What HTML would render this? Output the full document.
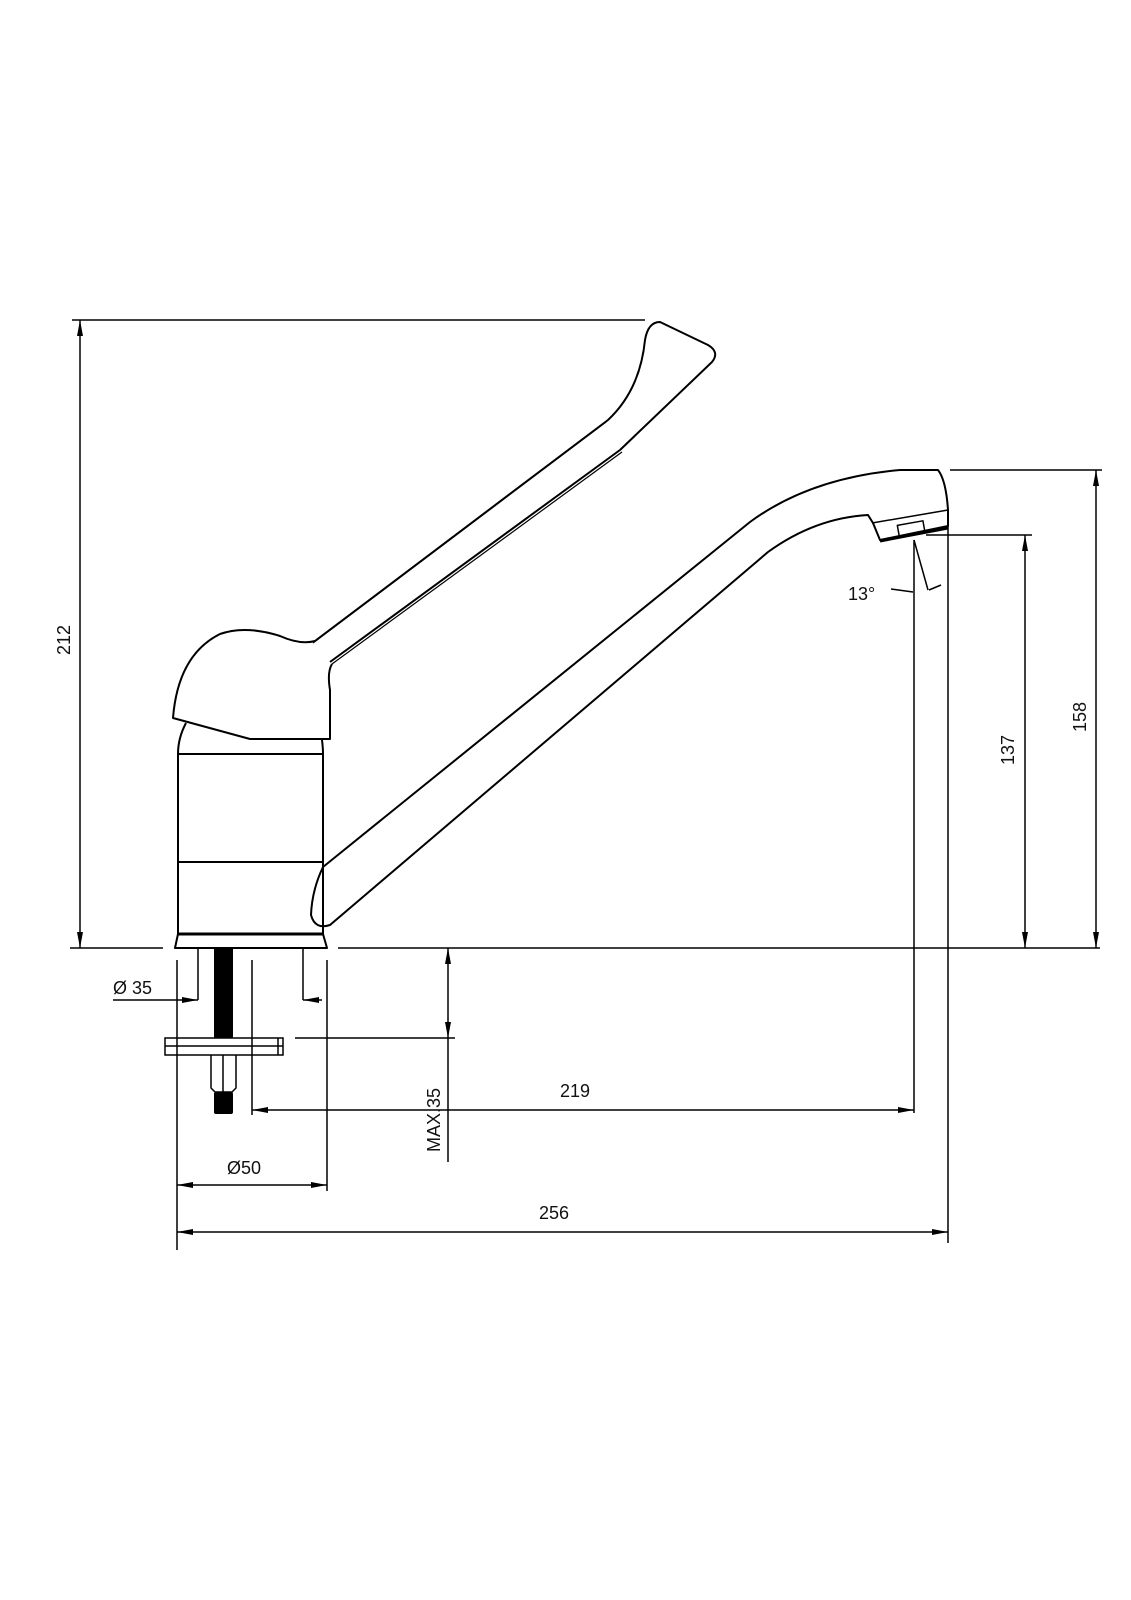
<!DOCTYPE html>
<html><head><meta charset="utf-8"><style>
html,body{margin:0;padding:0;background:#fff}
svg{display:block}
text{font-family:"Liberation Sans",sans-serif;font-size:18px;fill:#111}
</style></head><body>
<svg width="1131" height="1600" viewBox="0 0 1131 1600" xmlns="http://www.w3.org/2000/svg">
<defs>
<marker id="a" viewBox="0 0 16 6" refX="16" refY="3" markerWidth="16" markerHeight="6" markerUnits="userSpaceOnUse" orient="auto-start-reverse"><path d="M0,0 L16,3 L0,6 z" fill="#000"/></marker>
</defs>
<g fill="none" stroke="#000" stroke-width="1.5">
<line x1="70" y1="948" x2="163" y2="948"/>
<line x1="338" y1="948" x2="1100" y2="948"/>
<line x1="72" y1="320" x2="645" y2="320"/>
<line x1="80" y1="320" x2="80" y2="948" marker-start="url(#a)" marker-end="url(#a)"/>
<line x1="950" y1="470" x2="1102" y2="470"/>
<line x1="1096" y1="470" x2="1096" y2="948" marker-start="url(#a)" marker-end="url(#a)"/>
<line x1="926" y1="535" x2="1032" y2="535"/>
<line x1="1025" y1="535" x2="1025" y2="948" marker-start="url(#a)" marker-end="url(#a)"/>
<line x1="914" y1="540" x2="914" y2="1113"/>
<line x1="948" y1="512" x2="948" y2="1243"/>
<line x1="914" y1="540" x2="928" y2="590"/>
<path d="M891 589 L913 592"/>
<path d="M929 590 L941 585"/>
<line x1="252" y1="960" x2="252" y2="1115"/>
<line x1="252" y1="1110" x2="914" y2="1110" marker-start="url(#a)" marker-end="url(#a)"/>
<line x1="177" y1="960" x2="177" y2="1250"/>
<line x1="327" y1="960" x2="327" y2="1191"/>
<line x1="177" y1="1232" x2="948" y2="1232" marker-start="url(#a)" marker-end="url(#a)"/>
<line x1="177" y1="1185" x2="327" y2="1185" marker-start="url(#a)" marker-end="url(#a)"/>
<line x1="198" y1="948" x2="198" y2="1000"/>
<line x1="303" y1="948" x2="303" y2="1000"/>
<line x1="113" y1="1000" x2="198" y2="1000" marker-end="url(#a)"/>
<line x1="322" y1="1000" x2="303" y2="1000" marker-end="url(#a)"/>
<line x1="295" y1="1038" x2="455" y2="1038"/>
<line x1="448" y1="948" x2="448" y2="1038" marker-start="url(#a)" marker-end="url(#a)"/>
<line x1="448" y1="1038" x2="448" y2="1162"/>
</g>
<g fill="none" stroke="#000" stroke-width="2" stroke-linejoin="round">
<path d="M315 641 L608 420 Q640 390 645 340 Q648 322 660 322 L708 345 Q720 352 712 362 L620 450 L330 662"/>
<path d="M313 643 L606 422" stroke-width="1.2"/>
<path d="M332 664 L622 452" stroke-width="1.2"/>
<path d="M315 641 Q300 645 280 636 Q245 625 220 634 Q178 655 173 718 L250 739 L330 739 L330 690 Q327 672 332 664"/>
<path d="M186 723 Q178 738 178 754"/>
<path d="M322 740 Q323 748 323 754"/>
<rect x="178" y="754" width="145" height="180"/>
<line x1="178" y1="862" x2="323" y2="862"/>
<path d="M178 934 L175 948 L327 948 L323 934" />
<line x1="178" y1="934" x2="323" y2="934" stroke-width="3"/>
<path d="M323 867 L750 522 Q810 478 900 470 L938 470 Q946 480 948 510 L948 526 L880 540 L873 523 L868 515 Q815 518 768 552 L330 925 Q315 930 311 915 Q312 890 323 867"/>
<path d="M872 523 L948 510" stroke-width="1.5"/>
<rect x="898" y="523" width="26" height="11" transform="rotate(-10 911 528)" stroke-width="1.5"/>
<path d="M880 541 L948 528" stroke-width="3"/>
</g>
<rect x="214" y="948" width="19" height="90" fill="#000"/>
<g fill="none" stroke="#000" stroke-width="1.5">
<rect x="165" y="1038" width="118" height="17"/>
<line x1="165" y1="1046" x2="283" y2="1046"/>
<line x1="278" y1="1038" x2="278" y2="1055"/>
<path d="M211 1055 L211 1088 L215 1092 L232 1092 L236 1088 L236 1055"/>
<line x1="223" y1="1055" x2="223" y2="1092"/>
</g>
<rect x="214" y="1092" width="19" height="22" rx="2" fill="#000"/>
<text x="113" y="994">Ø 35</text>
<text x="227" y="1174">Ø50</text>
<text x="560" y="1097">219</text>
<text x="539" y="1219">256</text>
<text x="848" y="600">13°</text>
<text transform="translate(70 640) rotate(-90)" text-anchor="middle">212</text>
<text transform="translate(1086 717) rotate(-90)" text-anchor="middle">158</text>
<text transform="translate(1014 750) rotate(-90)" text-anchor="middle">137</text>
<text transform="translate(440 1120) rotate(-90)" text-anchor="middle">MAX.35</text>
</svg>
</body></html>
